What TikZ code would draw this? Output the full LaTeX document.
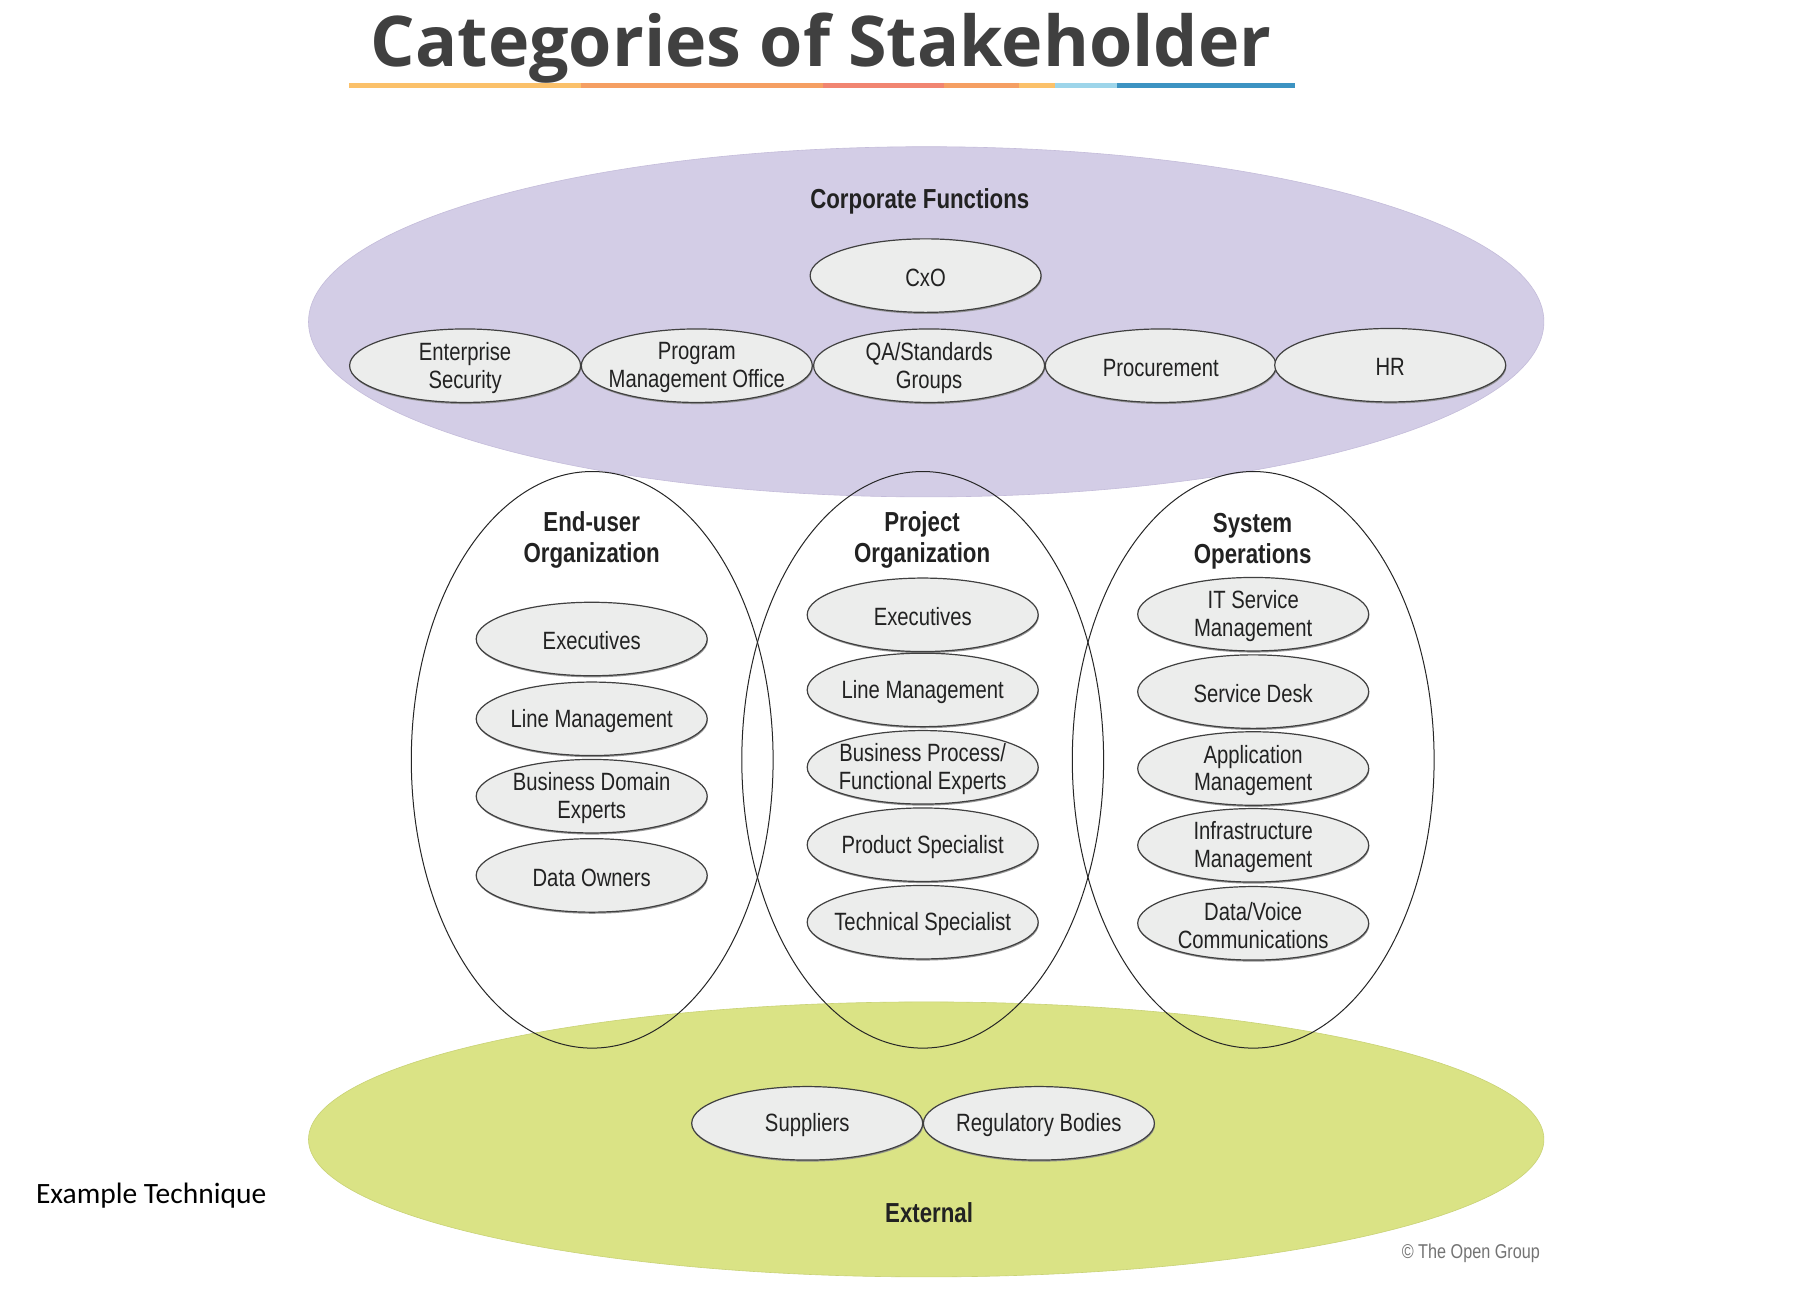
\documentclass[tikz,border=0pt]{standalone}
\usepackage{fontspec}
\setmainfont{Liberation Sans}
\newfontfamily\cond[FakeStretch=0.81]{Liberation Sans}
\newfontfamily\titlefont{Open Sans}
\newfontfamily\calib{Carlito}
\usetikzlibrary{shapes.geometric,shadows}
\definecolor{lav}{HTML}{D3CDE6}
\definecolor{lavedge}{HTML}{C4BCDA}
\definecolor{lime}{HTML}{DAE385}
\definecolor{limeedge}{HTML}{C9D275}
\definecolor{subfill}{HTML}{ECEDEC}
\definecolor{ttl}{HTML}{404040}
\definecolor{txt}{HTML}{222222}
\definecolor{uA}{HTML}{FBC16A}
\definecolor{uB}{HTML}{F59F63}
\definecolor{uC}{HTML}{F18571}
\definecolor{uD}{HTML}{9DD5EA}
\definecolor{uE}{HTML}{3C93C2}
\tikzset{
  bigell/.style={ellipse, inner sep=0pt, minimum width=1235.4pt},
  tallell/.style={ellipse, draw=black!85, line width=1pt, inner sep=0pt, minimum width=361.8pt, minimum height=576.6pt},
  subell/.style={ellipse, draw=black!75, line width=1.2pt, fill=subfill, inner sep=0pt, minimum width=231pt, minimum height=73.5pt,
     drop shadow={shadow xshift=0.6pt, shadow yshift=-1.6pt, fill=black!45, opacity=0.9}},
  subtxt/.style={inner sep=0pt, align=center, text=txt, yshift=-2pt, font=\cond\fontsize{25}{27.7}\selectfont},
  headtxt/.style={inner sep=0pt, align=center, text=txt, font=\cond\bfseries\fontsize{27.5}{31}\selectfont},
}
\newcommand\subnode[4]{\node[subell] (#1) at (#2,#3) {}; \node[subtxt] (#1-t) at (#1) {#4};}
\begin{document}
\begin{tikzpicture}[x=1pt,y=-1pt]
\useasboundingbox[fill=white] (0,0) rectangle (1812,1296);

% title
\node[anchor=base, inner sep=0pt, text=ttl, font=\titlefont\bfseries\fontsize{70}{76}\selectfont] (title) at (821,66) {Categories of Stakeholder};
\fill[uA] (349,83) rectangle (581,88);
\fill[uB] (581,83) rectangle (823,88);
\fill[uC] (823,83) rectangle (944,88);
\fill[uB] (944,83) rectangle (1019,88);
\fill[uA] (1019,83) rectangle (1055,88);
\fill[uD] (1055,83) rectangle (1117,88);
\fill[uE] (1117,83) rectangle (1295,88);

% big ellipses
\node[bigell, fill=lav, draw=lavedge, line width=0.6pt, minimum height=350.2pt] (corp) at (926.2,321.8) {};
\node[bigell, fill=lime, draw=limeedge, line width=0.6pt, minimum height=275pt] (ext) at (926.2,1139.4) {};

% tall ellipses
\node[tallell] (enduser) at (592.2,759.8) {};
\node[tallell] (project) at (922.7,759.8) {};
\node[tallell] (sysops) at (1253.2,759.8) {};

% headings
\node[headtxt] (corp-t) at (919.8,201) {Corporate Functions};
\node[headtxt] (enduser-t) at (591.7,540.3) {End-user\\Organization};
\node[headtxt] (project-t) at (922.1,540.3) {Project\\Organization};
\node[headtxt] (sysops-t) at (1252.6,540.8) {System\\Operations};
\node[headtxt] (ext-t) at (929.1,1213) {External};

% corporate functions
\subnode{cxo}{925.6}{275.6}{CxO}
\subnode{entsec}{465.1}{365.7}{Enterprise\\Security}
\subnode{pmo}{696.8}{365.7}{Program\\Management Office}
\subnode{qa}{929.1}{365.7}{QA/Standards\\Groups}
\subnode{proc}{1160.8}{365.7}{Procurement}
\subnode{hr}{1390.2}{365.2}{HR}

% end-user organization
\subnode{euexec}{591.7}{639}{Executives}
\subnode{euline}{591.7}{718.8}{Line Management}
\subnode{eudom}{591.7}{796.2}{Business Domain\\Experts}
\subnode{eudata}{591.7}{875.4}{Data Owners}

% project organization
\subnode{poexec}{922.7}{614.8}{Executives}
\subnode{poline}{922.7}{689.9}{Line Management}
\subnode{pobiz}{922.7}{767.3}{Business Process/\\Functional Experts}
\subnode{poprod}{922.7}{844.7}{Product Specialist}
\subnode{potech}{922.7}{922.2}{Technical Specialist}

% system operations
\subnode{soitsm}{1253.2}{614.2}{IT Service\\Management}
\subnode{sodesk}{1253.2}{691.6}{Service Desk}
\subnode{soapp}{1253.2}{768.5}{Application\\Management}
\subnode{soinfra}{1253.2}{845.3}{Infrastructure\\Management}
\subnode{sodata}{1253.2}{923.3}{Data/Voice\\Communications}

% external
\subnode{supp}{807.2}{1123.3}{Suppliers}
\subnode{reg}{1038.9}{1123.3}{Regulatory Bodies}

% footers
\node[anchor=east, inner sep=0pt, text=black!55, font=\cond\fontsize{20}{22}\selectfont] (copy) at (1540,1253.5) {© The Open Group};
\node[anchor=west, inner sep=0pt, text=black, font=\calib\fontsize{29.5}{34}\selectfont] (extech) at (35.8,1196) {Example Technique};
\end{tikzpicture}
\end{document}
